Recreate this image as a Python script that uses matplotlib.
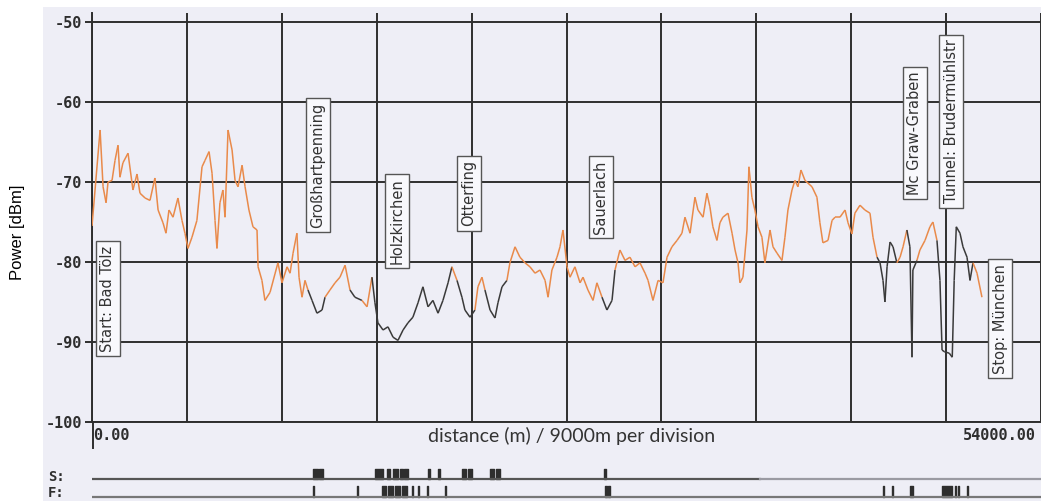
import matplotlib
matplotlib.use("Agg")
import matplotlib.pyplot as plt
from matplotlib.collections import LineCollection
from matplotlib.patches import Rectangle
from matplotlib.lines import Line2D
import numpy as np

# ---------------- data ----------------
distance_km = [
    0.00, 0.46, 0.63, 0.80, 0.91, 1.14, 1.31, 1.48, 1.59, 1.76, 2.05, 2.33, 2.56, 2.73, 3.02,
    3.30, 3.58, 3.76, 4.04, 4.21, 4.38, 4.61, 4.89, 5.12, 5.29, 5.46, 5.69, 5.97, 6.26, 6.43,
    6.66, 6.83, 7.00, 7.11, 7.28, 7.45, 7.57, 7.74, 7.97, 8.14, 8.31, 8.54, 8.71, 8.93, 9.16,
    9.39, 9.45, 9.67, 9.84, 10.13, 10.41, 10.58, 10.81, 11.10, 11.27, 11.44, 11.66, 11.78, 11.95,
    12.12, 12.29, 12.52, 12.80, 13.09, 13.26, 13.54, 13.83, 14.11, 14.40, 14.68, 14.96, 15.36,
    15.65, 15.93, 16.10, 16.27, 16.56, 16.84, 17.13, 17.41, 17.70, 17.98, 18.26, 18.55, 18.83,
    19.12, 19.40, 19.69, 19.97, 20.26, 20.48, 20.77, 21.05, 21.22, 21.51, 21.79, 21.96, 22.19,
    22.36, 22.65, 22.93, 23.10, 23.33, 23.61, 23.78, 24.07, 24.35, 24.64, 24.92, 25.21, 25.49,
    25.78, 25.95, 26.17, 26.46, 26.63, 26.80, 27.03, 27.20, 27.48, 27.77, 27.94, 28.22, 28.51,
    28.73, 29.02, 29.30, 29.59, 29.76, 30.04, 30.33, 30.61, 30.90, 31.18, 31.47, 31.64, 31.92,
    32.21, 32.49, 32.72, 33.00, 33.29, 33.57, 33.74, 34.03, 34.31, 34.48, 34.77, 34.99, 35.16,
    35.33, 35.56, 35.73, 35.90, 36.19, 36.42, 36.59, 36.76, 36.87, 37.04, 37.27, 37.38, 37.55,
    37.72, 37.90, 38.12, 38.29, 38.58, 38.75, 38.98, 39.26, 39.43, 39.60, 39.83, 40.00, 40.17,
    40.34, 40.57, 40.97, 41.25, 41.42, 41.59, 41.88, 42.11, 42.28, 42.56, 42.85, 43.02, 43.24,
    43.41, 43.70, 43.98, 44.27, 44.44, 44.67, 44.84, 45.01, 45.12, 45.24, 45.41, 45.58, 45.80,
    45.98, 46.15, 46.37, 46.54, 46.66, 46.71, 46.94, 47.11, 47.40, 47.68, 47.85, 48.08, 48.25,
    48.37, 48.49, 48.78, 48.95, 49.06, 49.18, 49.39, 49.56, 49.79, 49.96, 50.13, 50.36, 50.64,
]
power_dbm = [
    -75.5, -63.5, -70.6, -72.6, -70.0, -69.8, -67.3, -65.4, -69.4, -67.6, -66.4, -71.0, -69.0, -71.4, -72.0,
    -72.3, -69.5, -73.5, -75.1, -76.4, -73.5, -74.4, -72.0, -74.8, -76.4, -78.3, -76.9, -74.8, -68.1, -67.3,
    -66.2, -68.9, -74.8, -78.3, -72.6, -71.0, -74.4, -63.5, -66.0, -69.8, -70.6, -67.9, -70.6, -73.5, -75.6,
    -76.0, -80.6, -82.3, -84.8, -83.8, -81.5, -80.1, -82.6, -80.6, -81.4, -78.9, -76.4, -81.9, -84.4,
    -82.3, -83.5, -84.8, -86.4, -86.0, -84.4, -83.5, -82.6, -81.9, -80.4, -83.5, -84.4, -84.8,
    -85.6, -81.9, -85.1, -87.6, -88.5, -88.1, -89.4, -89.8, -88.5, -87.6, -86.9, -85.1, -83.1,
    -85.6, -84.8, -86.4, -84.8, -82.6, -80.6, -82.3, -84.4, -86.0, -86.9, -86.0, -83.1, -81.9,
    -83.5, -86.0, -87.0, -85.1, -83.1, -82.3, -80.1, -78.1, -79.4, -80.1, -80.6, -81.4, -81.0,
    -82.3, -84.4, -81.0, -79.4, -78.1, -76.0, -80.6, -81.9, -80.6, -82.6, -81.9, -83.5, -84.8,
    -82.6, -84.4, -86.0, -84.8, -81.0, -78.5, -79.8, -79.4, -80.6, -80.1, -81.4, -82.3, -84.8,
    -82.3, -82.6, -79.4, -78.1, -77.3, -76.4, -74.4, -76.4, -71.9, -73.5, -74.4, -71.4, -73.1,
    -75.6, -77.3, -75.1, -74.4, -73.9, -76.4, -78.5, -80.1, -82.6, -81.9, -76.0, -68.1, -71.9,
    -73.5, -75.6, -76.9, -80.1, -76.0, -78.1, -78.9, -79.8, -76.9, -73.5, -71.0, -69.8, -70.6,
    -68.5, -69.8, -70.6, -71.9, -75.1, -77.6, -77.3, -74.8, -74.4, -74.4, -73.5, -75.1, -76.5,
    -73.9, -72.9, -73.5, -73.9, -76.9, -79.4, -80.1, -82.3, -85.0, -80.6, -77.5, -78.1, -80.1,
    -79.4, -78.1, -76.0, -78.1, -91.9, -81.0, -79.8, -78.5, -77.3, -75.6, -75.0, -77.3, -82.3,
    -91.0, -91.2, -91.4, -91.9, -82.3, -75.6, -76.4, -78.1, -79.4, -82.3, -80.1, -81.4, -84.4,
]

y_ticks = [-50, -60, -70, -80, -90, -100]
x_start_label = "0.00"
x_end_label = "54000.00"
x_axis_title = "distance (m) / 9000m per division"
y_axis_title = "Power [dBm]"

place_names = ["Start: Bad Tölz", "Großhartpenning", "Holzkirchen", "Otterfing", "Sauerlach",
               "Mc Graw-Graben", "Tunnel: Brudermühlstr", "Stop: München"]
place_km = [0.91, 12.86, 17.35, 21.45, 28.96, 46.83, 48.88, 51.67]
place_dbm = [-84.6, -67.9, -74.9, -71.4, -71.9, -63.9, -62.4, -87.1]

s_start = [12.57, 12.92, 16.10, 16.79, 17.13, 17.50, 17.75, 19.12, 19.69, 21.05, 21.40, 22.65, 23.00, 29.15]
s_end = [12.85, 13.14, 16.56, 16.96, 17.42, 17.68, 17.98, 19.23, 19.80, 21.30, 21.62, 22.90, 23.22, 29.22]
f_start = [12.55, 15.06, 16.50, 16.84, 17.24, 17.64, 18.19, 18.53, 19.04, 20.07, 29.19, 29.38,
           44.99, 45.50, 46.54, 48.37, 49.08, 49.26, 49.77]
f_end = [12.62, 15.12, 16.73, 17.13, 17.53, 17.92, 18.25, 18.59, 19.10, 20.13, 29.30, 29.47,
         45.05, 45.56, 46.71, 48.93, 49.14, 49.32, 49.83]

# ---------------- layout helpers ----------------
W, H = 1041, 501
fig = plt.figure(figsize=(W / 100, H / 100), dpi=100)
fig.patch.set_facecolor("white")


def fx(px):
    return px / W


def fy(py):
    return 1 - py / H


BG = "#eeeef6"
INK = "#2e2e2e"
ORANGE = "#e98a4a"
DARK = "#3a3a3a"
MONO = {"family": "DejaVu Sans Mono", "weight": "bold"}

fig.add_artist(Rectangle((fx(43), 0), 1 - fx(43), fy(7), transform=fig.transFigure,
                         facecolor=BG, edgecolor="none", zorder=0))

# ---------------- main axes ----------------
ax = fig.add_axes([fx(92), fy(422), 1 - fx(92), (422 - 13) / H])
ax.patch.set_alpha(0)
ax.set_xlim(0, 54)
ax.set_ylim(-100, -48.875)

ax.set_xticks(np.arange(0, 54.01, 5.4))
ax.set_xticklabels([])
ax.tick_params(axis="x", length=0)
ax.set_yticks(y_ticks)
ax.set_yticklabels([str(v) for v in y_ticks], fontsize=11, color=INK, **MONO)
ax.tick_params(axis="y", length=5, width=1.4, color=INK, pad=2)
ax.grid(True, color=INK, lw=1.4)
ax.set_axisbelow(True)
for s in ["top", "right"]:
    ax.spines[s].set_visible(False)
for s in ["left", "bottom"]:
    ax.spines[s].set_color(INK)
    ax.spines[s].set_linewidth(1.4)

# curve, dark where an S/F event occurs
d = np.array(distance_km)
p = np.array(power_dbm)
pts = np.column_stack([d, p])
segs = np.stack([pts[:-1], pts[1:]], axis=1)
mid = (d[:-1] + d[1:]) / 2
pad = 0.25
ev = list(zip(s_start, s_end)) + list(zip(f_start, f_end))
dark = np.zeros(len(mid), dtype=bool)
for a, b in ev:
    dark |= (mid >= a - pad) & (mid <= b + pad)
cols = [DARK if k else ORANGE for k in dark]
lc = LineCollection(segs, colors=cols, linewidths=1.1, zorder=3)
ax.add_collection(lc)

for name, xk, yv in zip(place_names, place_km, place_dbm):
    ax.text(xk, yv, name, rotation=90, ha="center", va="center", fontsize=10.5,
            family="DejaVu Sans", color="#333333", zorder=5,
            bbox=dict(boxstyle="square,pad=0.3", fc="#f8f8fc", ec="#555555", lw=1))

fig.add_artist(Line2D([fx(93), fx(93)], [fy(422), fy(448)], color=INK, lw=1.4))

fig.text(fx(93), fy(436), x_start_label, ha="left", va="center", fontsize=11, color=INK, **MONO)
fig.text(fx(1036), fy(436), x_end_label, ha="right", va="center", fontsize=11, color=INK, **MONO)
fig.text(fx(572), fy(436), x_axis_title, ha="center", va="center", fontsize=14,
         family="Lato", color="#333333")
fig.text(fx(18), fy(232), y_axis_title, rotation=90, ha="center", va="center",
         fontsize=12, family="Liberation Sans", color="black")

# ---------------- event rows ----------------
ex = fig.add_axes([fx(92), 0, 1 - fx(92), (501 - 464) / H])
ex.set_xlim(0, 54)
ex.set_ylim(0, 37)
ex.axis("off")
ex.plot([0, 38.0], [22, 22], color="#555555", lw=1.6)
ex.plot([38.0, 54], [22, 22], color="#9a9aa2", lw=1.6)
ex.plot([0, 54], [4, 4], color="#777777", lw=1.6)
ex.broken_barh([(a, b - a) for a, b in zip(s_start, s_end)], (22, 10), color=INK)
ex.broken_barh([(a, b - a) for a, b in zip(f_start, f_end)], (4, 11), color=INK)

fig.text(fx(48), fy(477), "S:", ha="left", va="center", fontsize=10, color=INK, **MONO)
fig.text(fx(48), fy(493), "F:", ha="left", va="center", fontsize=10, color=INK, **MONO)

fig.savefig("out.png", dpi=100, facecolor=fig.get_facecolor())
